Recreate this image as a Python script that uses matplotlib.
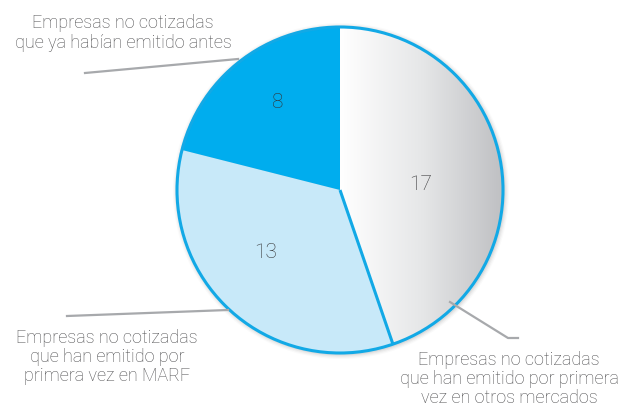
import matplotlib
matplotlib.use("Agg")
import matplotlib.pyplot as plt
import numpy as np
from matplotlib.patches import Circle

values = [17, 13, 8]
value_labels = ["17", "13", "8"]
categories = [
    "Empresas no cotizadas\nque han emitido por primera\nvez en otros mercados",
    "Empresas no cotizadas\nque han emitido por\nprimera vez en MARF",
    "Empresas no cotizadas\nque ya habían emitido antes",
]
colors = ["#ffffff", "#c8e9f9", "#00adee"]

W, H = 624, 410
fig = plt.figure(figsize=(W / 100, H / 100), dpi=100)
ax = fig.add_axes([0, 0, 1, 1])

cx, cy, R = 340, H - 191, 163
edge = "#12a9e6"
txt = "#4d4d4f"
font = dict(family=["Roboto", "DejaVu Sans"], fontweight="light", color=txt)

# soft shadow
for i, a in enumerate([0.05, 0.04, 0.03, 0.02]):
    ax.add_patch(Circle((cx + 1, cy - 1), R + 1.5 + i * 1.2, color="#000000", alpha=a, lw=0, zorder=0))

wedges, _ = ax.pie(values, colors=colors, startangle=90, counterclock=False,
                   center=(cx, cy), radius=R, wedgeprops=dict(linewidth=0))
for w in wedges:
    w.set_zorder(2)

# gradient on first slice
grad = np.linspace(0, 1, 256)[None, :]
cmap = matplotlib.colors.LinearSegmentedColormap.from_list("g", ["#ffffff", "#e6e7e8", "#bfc0c3"])
im = ax.imshow(grad, cmap=cmap, extent=(cx, cx + R, cy - R, cy + R), aspect="auto", zorder=3)
im.set_clip_path(wedges[0])

# outline and separator
ax.add_patch(Circle((cx, cy), R, fill=False, ec=edge, lw=2.2, zorder=5))
th = np.deg2rad(wedges[0].theta1)
ax.plot([cx, cx + R * np.cos(th)], [cy, cy + R * np.sin(th)], color=edge, lw=2.2, zorder=5,
        solid_capstyle="butt")

# value labels
val_pos = [(421, 185), (266, 252), (278, 103)]
for (x, y), s in zip(val_pos, value_labels):
    ax.text(x, H - y, s, ha="center", va="center", fontsize=15, zorder=6,
            family=["Roboto", "DejaVu Sans"], fontweight="light", color="#333335")

# leader lines
gray = "#a7a9ac"
ax.plot([85, 238], [H - 74, H - 60], color=gray, lw=1.6, zorder=6)
ax.plot([67, 228], [H - 317, H - 311], color=gray, lw=1.6, zorder=6)
ax.plot([450, 508, 518], [H - 303, H - 339, H - 339], color=gray, lw=1.6, zorder=6)

# category labels
ax.text(123, H - 33, categories[2], ha="center", va="center", fontsize=13, linespacing=1.1, **font)
ax.text(107, H - 357, categories[1], ha="center", va="center", fontsize=13, linespacing=1.1, **font)
ax.text(509, H - 379, categories[0], ha="center", va="center", fontsize=13, linespacing=1.1, **font)

ax.set_xlim(0, W)
ax.set_ylim(0, H)
ax.set_aspect("equal")
ax.axis("off")
fig.savefig("out.png", dpi=100)
